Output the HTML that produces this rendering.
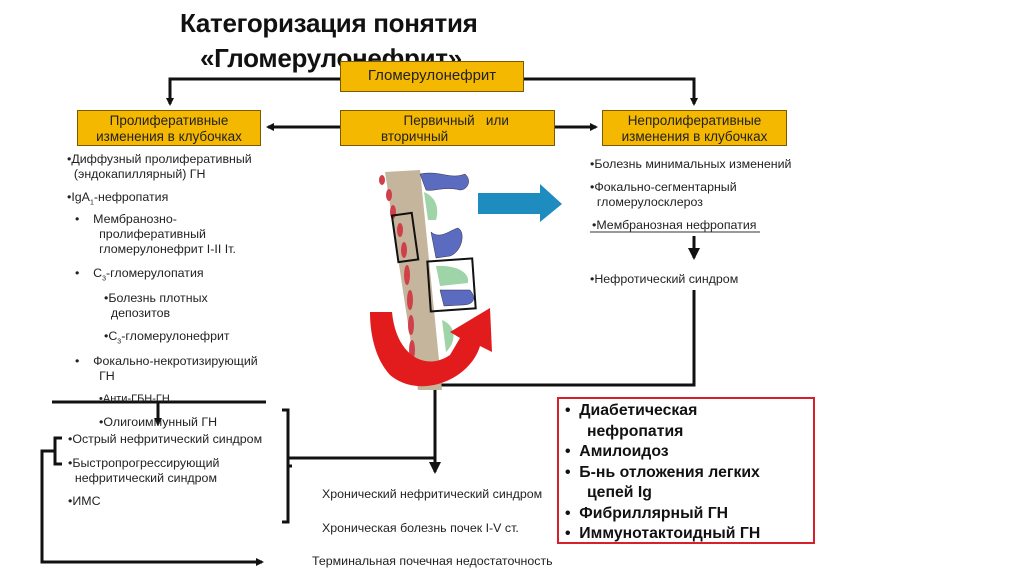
<!DOCTYPE html>
<html><head><meta charset="utf-8"><style>
body{margin:0;width:1024px;height:576px;background:#fff;position:relative;overflow:hidden;font-family:"Liberation Sans","DejaVu Sans",sans-serif;color:#222}
.a{position:absolute;white-space:nowrap}
.t{font-size:12.4px;line-height:15px}
.box{position:absolute;background:#f4b800;border:1.5px solid #7a5a00;box-sizing:border-box;font-size:13.5px;line-height:16px;text-align:center;color:#222}
.title{font-size:26px;font-weight:bold;color:#111;letter-spacing:-0.3px}
.rb{font-size:15.8px;font-weight:bold;line-height:20.5px;color:#111}
</style></head><body>
<div class="a title" style="left:180px;top:8px">Категоризация понятия</div>
<div class="a title" style="left:200px;top:43px">«Гломерулонефрит»</div>

<svg class="a" style="left:0;top:0" width="1024" height="576">
<defs><marker id="ar" markerWidth="8" markerHeight="8" refX="6" refY="4" orient="auto" markerUnits="userSpaceOnUse"><path d="M0,0 L8,4 L0,8z" fill="#111"/></marker>
<marker id="ab" markerWidth="12" markerHeight="12" refX="10" refY="6" orient="auto" markerUnits="userSpaceOnUse"><path d="M0,0 L12,6 L0,12z" fill="#111"/></marker></defs>
<g stroke="#111" stroke-width="3" fill="none">
<polyline points="340,79 170,79 170,104" marker-end="url(#ar)"/>
<polyline points="524,79 694,79 694,104" marker-end="url(#ar)"/>
<line x1="340" y1="127" x2="268" y2="127" marker-end="url(#ar)"/>
<line x1="555" y1="127" x2="596" y2="127" marker-end="url(#ar)"/>
<line x1="694" y1="236" x2="694" y2="258" marker-end="url(#ab)"/>
<polyline points="694,290 694,385 435,385 435,472" marker-end="url(#ab)"/>
<line x1="288" y1="458" x2="435" y2="458"/>
<line x1="52" y1="402" x2="266" y2="402"/>
<line x1="158" y1="402" x2="158" y2="424" marker-end="url(#ar)"/>
<polyline points="282,410 288,410 288,522 282,522"/>
<line x1="288" y1="466" x2="292" y2="466"/>
<polyline points="62,438 55,438 55,464 62,464"/>
<polyline points="55,451 42,451 42,562 262,562" marker-end="url(#ar)"/>
</g>
<line x1="590" y1="232" x2="760" y2="232" stroke="#333" stroke-width="1"/>
<path d="M385,172 L420,170 L442,390 L418,390 Z" fill="#c4b59c"/>
<g fill="#5a6bc0" stroke="#334" stroke-width="0.5">
<path d="M420,174 C440,170 450,180 465,174 C472,180 468,190 460,190 C445,186 432,192 426,190 Z"/>
<path d="M431,232 C440,240 450,230 458,228 C466,232 462,252 450,256 L436,258 Z"/>
<path d="M440,290 L470,290 C478,300 472,305 462,305 L444,306 Z"/>
</g>
<g fill="#9fd4a8">
<path d="M424,192 C434,196 440,206 436,220 L428,220 Z"/>
<path d="M436,266 C452,265 470,270 468,283 L440,286 Z"/>
<path d="M442,320 C455,325 458,340 446,352 Z"/>
</g>
<g fill="#d0404a">
<ellipse cx="382" cy="180" rx="3" ry="5"/><ellipse cx="389" cy="195" rx="3" ry="6"/><ellipse cx="393" cy="212" rx="3" ry="7"/>
<ellipse cx="400" cy="230" rx="3" ry="7"/><ellipse cx="404" cy="250" rx="3" ry="8"/><ellipse cx="407" cy="275" rx="3" ry="10"/>
<ellipse cx="410" cy="300" rx="3" ry="10"/><ellipse cx="411" cy="325" rx="3" ry="10"/><ellipse cx="412" cy="350" rx="3" ry="10"/>
</g>
<rect x="395" y="214" width="20" height="47" fill="none" stroke="#111" stroke-width="2" transform="rotate(-8 405 237)"/>
<rect x="429" y="260" width="45" height="50" fill="none" stroke="#111" stroke-width="2" transform="rotate(-4 451 285)"/>
<path d="M478,193 L540,193 L540,184 L562,204 L540,222 L540,214 L478,214 Z" fill="#1f8cbf"/>
<path d="M370,312 L392,312 C396,355 425,372 450,355 L460,338 L450,332 L490,308 L492,352 L480,346 C470,380 420,400 390,375 C378,362 370,340 370,312 Z" fill="#e21c1c"/>
</svg>

<div class="box" style="left:340px;top:61px;width:184px;height:31px;padding-top:6px;font-size:15px">Гломерулонефрит</div>
<div class="box" style="left:77px;top:110px;width:184px;height:36px;padding-top:2px">Пролиферативные<br>изменения в клубочках</div>
<div class="box" style="left:340px;top:110px;width:215px;height:36px;padding-top:2px;text-align:left;padding-left:40px">&nbsp;&nbsp;&nbsp;&nbsp;&nbsp;&nbsp;Первичный&nbsp;&nbsp; или<br>вторичный</div>
<div class="box" style="left:602px;top:110px;width:185px;height:36px;padding-top:2px">Непролиферативные<br>изменения в клубочках</div>

<div class="a t" style="left:67px;top:152px">•Диффузный пролиферативный<br>&nbsp;&nbsp;(эндокапиллярный) ГН</div>
<div class="a t" style="left:67px;top:190px">•IgA<sub style="font-size:7px">1</sub>-нефропатия</div>
<div class="a t" style="left:75px;top:212px">•&nbsp;&nbsp;&nbsp;&nbsp;Мембранозно-<br>&nbsp;&nbsp;&nbsp;&nbsp;&nbsp;&nbsp;&nbsp;пролиферативный<br>&nbsp;&nbsp;&nbsp;&nbsp;&nbsp;&nbsp;&nbsp;гломерулонефрит I-II Iт.</div>
<div class="a t" style="left:75px;top:266px">•&nbsp;&nbsp;&nbsp;&nbsp;С<sub style="font-size:7px">3</sub>-гломерулопатия</div>
<div class="a t" style="left:104px;top:291px">•Болезнь плотных<br>&nbsp;&nbsp;депозитов</div>
<div class="a t" style="left:104px;top:329px">•С<sub style="font-size:7px">3</sub>-гломерулонефрит</div>
<div class="a t" style="left:75px;top:354px">•&nbsp;&nbsp;&nbsp;&nbsp;Фокально-некротизирующий<br>&nbsp;&nbsp;&nbsp;&nbsp;&nbsp;&nbsp;&nbsp;ГН</div>
<div class="a t" style="left:99px;top:392px;font-size:11px">•Анти-ГБН-ГН</div>
<div class="a t" style="left:99px;top:415px">•Олигоиммунный ГН</div>
<div class="a t" style="left:68px;top:432px">•Острый нефритический синдром</div>
<div class="a t" style="left:68px;top:456px">•Быстропрогрессирующий<br>&nbsp;&nbsp;нефритический синдром</div>
<div class="a t" style="left:68px;top:494px">•ИМС</div>

<div class="a t" style="left:322px;top:487px">Хронический нефритический синдром</div>
<div class="a t" style="left:322px;top:521px">Хроническая болезнь почек I-V ст.</div>
<div class="a t" style="left:312px;top:554px">Терминальная почечная недостаточность</div>

<div class="a t" style="left:590px;top:157px">•Болезнь минимальных изменений</div>
<div class="a t" style="left:590px;top:180px">•Фокально-сегментарный<br>&nbsp;&nbsp;гломерулосклероз</div>
<div class="a t" style="left:592px;top:218px">•Мембранозная нефропатия</div>
<div class="a t" style="left:590px;top:272px">•Нефротический синдром</div>

<div class="a" style="left:557px;top:397px;width:258px;height:147px;border:2px solid #d6202a;box-sizing:border-box"></div>
<div class="a rb" style="left:565px;top:401px">•&nbsp;&nbsp;Диабетическая<br>&nbsp;&nbsp;&nbsp;&nbsp;&nbsp;нефропатия<br>•&nbsp;&nbsp;Амилоидоз<br>•&nbsp;&nbsp;Б-нь отложения легких<br>&nbsp;&nbsp;&nbsp;&nbsp;&nbsp;цепей Ig<br>•&nbsp;&nbsp;Фибриллярный ГН<br>•&nbsp;&nbsp;Иммунотактоидный ГН</div>
</body></html>
